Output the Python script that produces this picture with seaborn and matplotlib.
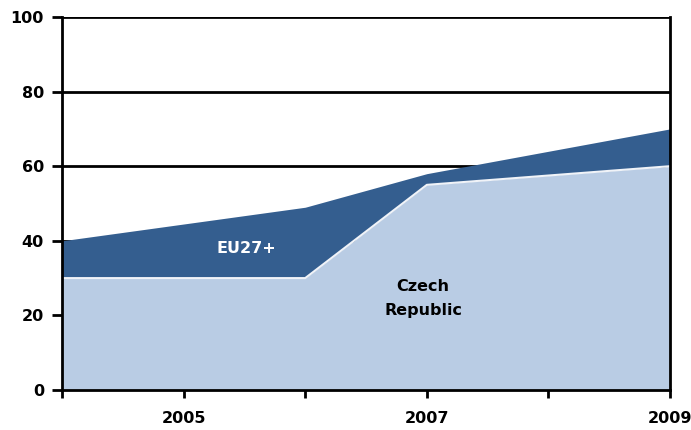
import matplotlib
matplotlib.use('Agg')
import matplotlib.pyplot as plt
import seaborn as sns

# data
years = [2004, 2006, 2007, 2009]
czech = [30, 30, 55, 60]
eu27 = [10, 19, 3, 10]
tick_years = [2004, 2005, 2006, 2007, 2008, 2009]
tick_labels = ['', '2005', '', '2007', '', '2009']
y_ticks = [0, 20, 40, 60, 80, 100]

sns.set_style('white')
plt.rcParams['font.family'] = ['DejaVu Sans']

fig = plt.figure(figsize=(6.91, 4.30), dpi=100)
ax = fig.add_axes([0.0897, 0.093, 0.880, 0.8675])

top = [c + e for c, e in zip(czech, eu27)]

# grid lines behind the areas
for v in y_ticks:
    ax.axhline(v, color='black', lw=2, zorder=0)

ax.fill_between(years, 0, czech, color='#b9cce4', lw=0, zorder=1)
ax.fill_between(years, czech, top, color='#345e8f', lw=0, zorder=1)
sns.lineplot(x=years, y=czech, ax=ax, color='#f0f3f8', lw=1.5, zorder=2)

ax.set_xlim(2004, 2009)
ax.set_ylim(0, 100)
ax.set_xticks(tick_years)
ax.set_xticklabels(tick_labels, fontsize=11.5, fontweight='bold')
ax.set_yticks(y_ticks)
ax.set_yticklabels([str(v) for v in y_ticks], fontsize=11.5, fontweight='bold')
ax.tick_params(axis='x', direction='out', length=6, width=2, pad=9, bottom=True,
               color='black', labelcolor='black')
ax.tick_params(axis='y', direction='out', length=7, width=2, pad=6, left=True,
               color='black', labelcolor='black')

for side in ['left', 'right', 'top', 'bottom']:
    ax.spines[side].set_visible(True)
    ax.spines[side].set_color('black')
    ax.spines[side].set_linewidth(2)
ax.spines['top'].set_visible(False)

ax.text(2005.52, 38, 'EU27+', color='white', fontsize=11.5, fontweight='bold',
        ha='center', va='center', zorder=3)
ax.text(2006.97, 24.5, 'Czech\nRepublic', color='black', fontsize=11.5, fontweight='bold',
        ha='center', va='center', linespacing=1.7, zorder=3)

fig.savefig('out.png', dpi=100)
